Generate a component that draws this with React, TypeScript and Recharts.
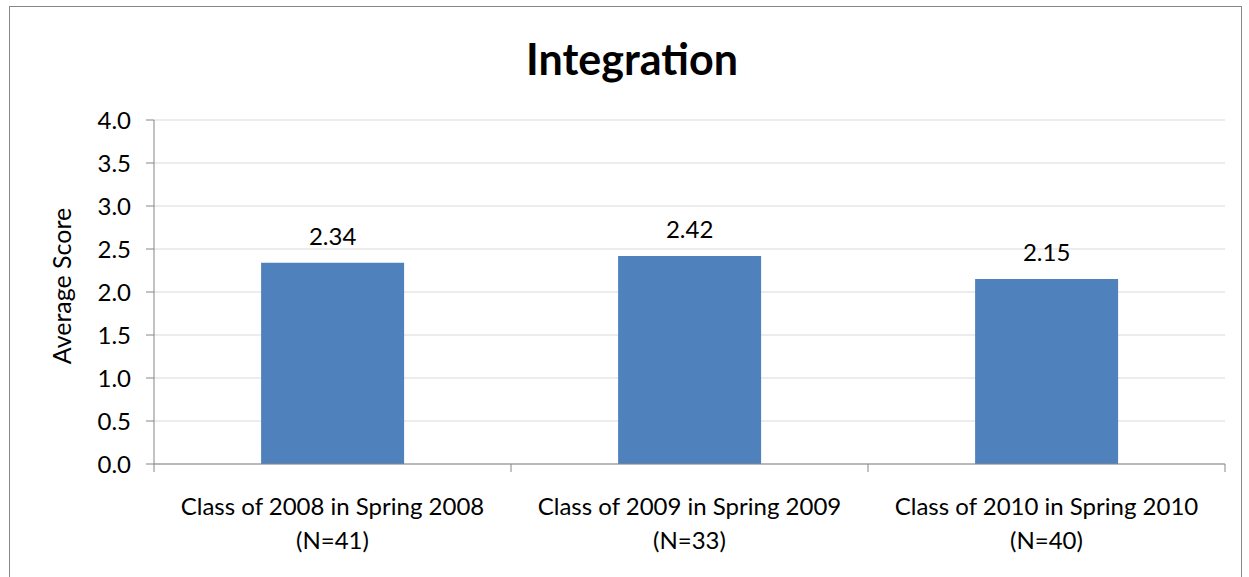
import React from 'react';
import { BarChart, Bar, XAxis, YAxis, CartesianGrid, LabelList } from 'recharts';

// Integration - average score by class cohort
const categories = ['Class of 2008 in Spring 2008', 'Class of 2009 in Spring 2009', 'Class of 2010 in Spring 2010'];
const sampleSizes = ['(N=41)', '(N=33)', '(N=40)'];
const scores = [2.34, 2.42, 2.15];
const yTicks = [0, 0.5, 1, 1.5, 2, 2.5, 3, 3.5, 4];

const data = categories.map((c, i) => ({ name: c, n: sampleSizes[i], score: scores[i] }));

const FONT = 'Lato, "Open Sans", sans-serif';
const AXIS = '#868686';

const W = 1249;
const H = 577;
const M = { top: 120, right: 24, bottom: 0, left: 0 };
const X_H = 113;
const Y_W = 154;
const BAND = (W - M.left - M.right - Y_W) / categories.length;

// category label on two lines, plus boundary tick marks like Excel
const CategoryTick = ({ x, y, payload, index }: any) => {
  const d = data[index];
  const left = x - BAND / 2;
  return (
    <g>
      <line x1={left} y1={y} x2={left} y2={y + 8} stroke={AXIS} />
      {index === data.length - 1 && <line x1={x + BAND / 2} y1={y} x2={x + BAND / 2} y2={y + 8} stroke={AXIS} />}
      <text x={x} y={y + 51} textAnchor="middle" fontSize={24} fill="#000" fontFamily={FONT}>{payload.value}</text>
      <text x={x} y={y + 85} textAnchor="middle" fontSize={24} fill="#000" fontFamily={FONT}>{d ? d.n : ''}</text>
    </g>
  );
};

export default function App() {
  return (
    <div style={{ position: 'absolute', left: 0, top: 0, width: W, height: H, background: '#fff', overflow: 'hidden' }}>
      <div style={{ position: 'absolute', left: 9, top: 6, width: 1231, height: 600, border: '1px solid #888' }} />
      <div style={{ position: 'absolute', left: 0, top: 0 }}>
        <BarChart width={W} height={H} data={data} margin={M} barCategoryGap="30%">
          <text x={632} y={75} textAnchor="middle" fontSize={43} fontWeight="bold" fontFamily={FONT} fill="#000">Integration</text>
          <CartesianGrid vertical={false} stroke="#d9d9d9" />
          <XAxis dataKey="name" tick={<CategoryTick />} tickLine={false} tickSize={0} tickMargin={0} axisLine={{ stroke: AXIS }} interval={0} height={X_H} />
          <YAxis
            domain={[0, 4]}
            ticks={yTicks}
            width={Y_W}
            tickFormatter={(v: number) => v.toFixed(1)}
            tick={{ fontSize: 24, fill: '#000', fontFamily: FONT }}
            tickSize={8}
            tickMargin={15}
            tickLine={{ stroke: AXIS }}
            axisLine={{ stroke: AXIS }}
            label={{ value: 'Average Score', angle: -90, position: 'insideLeft', offset: 0, dx: 62, dy: -6, style: { fontSize: 25, fill: '#000', fontFamily: FONT, textAnchor: 'middle' } }}
          />
          <Bar dataKey="score" fill="#4f81bd" isAnimationActive={false}>
            <LabelList dataKey="score" position="top" offset={18} formatter={(v: number) => v.toFixed(2)} style={{ fontSize: 24, fill: '#000', fontFamily: FONT }} />
          </Bar>
        </BarChart>
      </div>
    </div>
  );
}
